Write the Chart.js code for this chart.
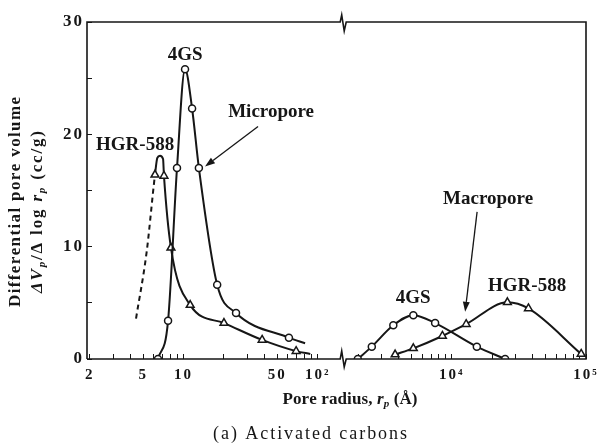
<!DOCTYPE html>
<html><head><meta charset="utf-8">
<script src="https://cdn.jsdelivr.net/npm/chart.js@4.4.1/dist/chart.umd.min.js"></script>
<style>html,body{margin:0;padding:0;background:#fff;} #wrap{width:598px;height:446px;}</style>
</head><body><div id="wrap"><canvas id="c" width="598" height="446"></canvas></div>
<script>
// ---------- data (pore radius in Å, dV/dlog r in cc/g) ----------
const X_MICRO_4GS = [6.44, 7.66, 8.93, 10.25, 11.57, 13.0, 17.8, 24.6, 61, 80.5];
const Y_MICRO_4GS = [0, 3.4, 17.0, 25.8, 22.3, 17.0, 6.6, 4.1, 1.9, 1.4];
const MARK_MICRO_4GS = [1, 1, 1, 1, 1, 1, 1, 1, 1, 0];

const X_MICRO_HGR = [4.42, 5.3, 6.12, 6.37, 6.67, 7.03, 7.14, 8.05, 11.2, 20.0, 38.5, 69, 88];
const Y_MICRO_HGR = [3.6, 9.5, 16.4, 17.9, 18.1, 17.8, 16.3, 9.9, 4.8, 3.2, 1.7, 0.7, 0.45];
const MARK_MICRO_HGR = [0, 0, 1, 0, 0, 0, 1, 1, 1, 1, 1, 1, 0];

const X_MACRO_4GS = [1990, 2530, 3660, 5160, 7500, 15350, 24950];
const Y_MACRO_4GS = [0, 1.1, 3.0, 3.9, 3.2, 1.1, 0];

const X_MACRO_HGR = [3775, 5160, 8500, 12780, 25940, 37220, 92050];
const Y_MACRO_HGR = [0.4, 0.95, 2.05, 3.1, 5.05, 4.5, 0.45];

const X_LABEL_VALUES = [2, 5, 10, 50, 100, 10000, 100000];
const X_TICK_LABELS = ['2', '5', '10', '50', '10²', '10⁴', '10⁵'];
const X_MINOR_TICKS = [3, 4, 6, 7, 8, 9, 20, 30, 40, 60, 70, 80, 90,
  2000, 3000, 4000, 5000, 6000, 7000, 8000, 9000,
  20000, 30000, 40000, 50000, 60000, 70000, 80000, 90000];
const Y_TICKS = [0, 5, 10, 15, 20, 25, 30];
const Y_TICK_LABELS = ['0', '', '10', '', '20', '', '30'];

// ---------- broken log axis (one decade cut out between ~150 Å and ~1500 Å) ----------
const GAP_DECADES = 1, SPLIT_R = 500, BREAK_U = 2.19;
const X_MIN = 1.905, X_MAX = 100000;
function toU(r) { const l = Math.log10(r); return r >= SPLIT_R ? l - GAP_DECADES : l; }

class BrokenLogScale extends Chart.LinearScale {
  parse(raw, index) {
    const v = super.parse(raw, index);
    if (v === null || v === undefined || !isFinite(v) || v <= 0) return null;
    return toU(v);
  }
}
BrokenLogScale.id = 'brokenLog';
BrokenLogScale.defaults = {};
Chart.register(BrokenLogScale);

const X_TICKS = X_LABEL_VALUES.concat(X_MINOR_TICKS).sort((a, b) => a - b);
function xLabel(v) { const i = X_LABEL_VALUES.indexOf(v); return i >= 0 ? X_TICK_LABELS[i] : ''; }

function pts(xs, ys) { return xs.map((x, i) => ({ x: x, y: ys[i] })); }

const INK = '#161616';
const SERIF = "'Liberation Serif', 'DejaVu Serif', serif";

function ds(label, xs, ys, marks, style, extra) {
  return Object.assign({
    label: label,
    data: pts(xs, ys),
    borderColor: INK,
    borderWidth: 2,
    backgroundColor: '#fff',
    pointBackgroundColor: '#fff',
    pointBorderColor: INK,
    pointBorderWidth: 1.5,
    pointStyle: style,
    pointRadius: marks ? (c => marks[c.dataIndex] ? (style === 'triangle' ? 4.5 : 3.5) : 0)
                       : (style === 'triangle' ? 4.5 : 3.5),
    cubicInterpolationMode: 'monotone',
    fill: false
  }, extra || {});
}

// ---------- decorations ----------
const ANNOTATIONS = [
  { text: '4GS', x: 10.26, y: 27.05 },
  { text: 'HGR-588', x: 4.35, y: 19.0 },
  { text: 'Micropore', x: 44.9, y: 21.96 },
  { text: 'Macropore', x: 18620, y: 14.2 },
  { text: '4GS', x: 5140, y: 5.45 },
  { text: 'HGR-588', x: 36390, y: 6.5 }
];
const ARROWS = [
  { from: [35.9, 20.7], to: [14.45, 17.14] },
  { from: [15420, 13.1], to: [12560, 4.2] }
];

function drawRich(ctx, runs, cx, cy, opts) {
  const chars = []; let total = 0;
  for (const r of runs) {
    ctx.font = r.font;
    for (const ch of r.t) { const w = ctx.measureText(ch).width; chars.push({ ch, font: r.font, dy: r.dy || 0, w }); total += w; }
  }
  const sp = opts.width ? (opts.width - total) / (chars.length - 1) : (opts.spacing || 0);
  const full = total + sp * (chars.length - 1);
  ctx.save();
  ctx.translate(cx, cy);
  if (opts.rotate) ctx.rotate(opts.rotate);
  ctx.textBaseline = 'middle'; ctx.textAlign = 'left'; ctx.fillStyle = INK;
  let x = -full / 2;
  for (const c of chars) { ctx.font = c.font; ctx.fillText(c.ch, x, c.dy); x += c.w + sp; }
  ctx.restore();
}

const decor = {
  id: 'decor',
  beforeDraw(chart) { try { chart.ctx.letterSpacing = '2px'; } catch (e) {} },
  beforeDatasetsDraw(chart) { try { chart.ctx.letterSpacing = '0px'; } catch (e) {} },
  afterDraw(chart) {
    const ctx = chart.ctx, xs = chart.scales.x, ys = chart.scales.y;
    try { ctx.letterSpacing = '0px'; } catch (e) {}
    const { left, right, top, bottom } = chart.chartArea;
    const bx = xs.getPixelForValue(BREAK_U);
    ctx.save();
    ctx.strokeStyle = INK; ctx.lineWidth = 1.6; ctx.lineJoin = 'miter';
    ctx.beginPath();
    ctx.moveTo(left, bottom); ctx.lineTo(left, top);
    ctx.lineTo(bx - 3, top); ctx.lineTo(bx - 1.5, top - 7); ctx.lineTo(bx + 1, top + 9); ctx.lineTo(bx + 3, top);
    ctx.lineTo(right, top); ctx.lineTo(right, bottom);
    ctx.lineTo(bx + 3, bottom); ctx.lineTo(bx + 1, bottom + 8); ctx.lineTo(bx - 1.5, bottom - 8); ctx.lineTo(bx - 3, bottom);
    ctx.lineTo(left, bottom);
    ctx.stroke();

    // arrows
    ctx.fillStyle = INK; ctx.lineWidth = 1.3;
    for (const a of ARROWS) {
      const x1 = xs.getPixelForValue(xs.parse(a.from[0])), y1 = ys.getPixelForValue(a.from[1]);
      const x2 = xs.getPixelForValue(xs.parse(a.to[0])), y2 = ys.getPixelForValue(a.to[1]);
      const ang = Math.atan2(y2 - y1, x2 - x1), L = 10, W = 3.5;
      const bxp = x2 - L * Math.cos(ang), byp = y2 - L * Math.sin(ang);
      ctx.beginPath(); ctx.moveTo(x1, y1); ctx.lineTo(bxp, byp); ctx.stroke();
      ctx.beginPath(); ctx.moveTo(x2, y2);
      ctx.lineTo(bxp + W * Math.sin(ang), byp - W * Math.cos(ang));
      ctx.lineTo(bxp - W * Math.sin(ang), byp + W * Math.cos(ang));
      ctx.closePath(); ctx.fill();
    }
    // annotation labels
    ctx.font = 'bold 19px ' + SERIF; ctx.textAlign = 'center'; ctx.textBaseline = 'middle';
    for (const a of ANNOTATIONS) {
      ctx.fillText(a.text, xs.getPixelForValue(xs.parse(a.x)), ys.getPixelForValue(a.y));
    }
    ctx.restore();

    const B = 'bold 17px ' + SERIF, BI = 'italic bold 17px ' + SERIF, SUB = 'italic bold 11px ' + SERIF;
    // x title
    drawRich(ctx, [{ t: 'Pore radius, ', font: B }, { t: 'r', font: BI }, { t: 'p', font: SUB, dy: 4 }, { t: ' (Å)', font: B }],
      350, 400, { width: 135 });
    // y title (two lines)
    drawRich(ctx, [{ t: 'Differential pore volume', font: B }], 16, 202, { width: 210, rotate: -Math.PI / 2 });
    drawRich(ctx, [{ t: 'ΔV', font: BI }, { t: 'p', font: SUB, dy: 4 }, { t: '/Δ log ', font: B }, { t: 'r', font: BI },
      { t: 'p', font: SUB, dy: 4 }, { t: ' (cc/g)', font: B }], 38, 212, { width: 162, rotate: -Math.PI / 2 });
    // caption
    drawRich(ctx, [{ t: '(a) Activated carbons', font: '18px ' + SERIF }], 310, 434, { width: 194 });
  }
};

new Chart(document.getElementById('c'), {
  type: 'line',
  data: {
    datasets: [
      ds('4GS micropore', X_MICRO_4GS, Y_MICRO_4GS, MARK_MICRO_4GS, 'circle'),
      ds('HGR-588 micropore', X_MICRO_HGR, Y_MICRO_HGR, MARK_MICRO_HGR, 'triangle', {
        segment: { borderDash: c => c.p0DataIndex < 2 ? [5, 4] : undefined }
      }),
      ds('4GS macropore', X_MACRO_4GS, Y_MACRO_4GS, null, 'circle'),
      ds('HGR-588 macropore', X_MACRO_HGR, Y_MACRO_HGR, null, 'triangle')
    ]
  },
  options: {
    responsive: false,
    animation: false,
    devicePixelRatio: 1,
    layout: { padding: { top: 22, right: 12, left: 0, bottom: 0 } },
    plugins: { legend: { display: false }, tooltip: { enabled: false } },
    scales: {
      x: {
        type: 'brokenLog',
        bounds: 'data',
        min: X_MIN, max: X_MAX,
        afterBuildTicks: s => { s.ticks = X_TICKS.map(v => ({ value: toU(v) })); },
        afterFit: s => { s.height = 87; s.paddingLeft = 0; s.paddingRight = 0; },
        ticks: {
          autoSkip: false, maxRotation: 0, minRotation: 0, padding: 12, color: INK,
          font: { family: SERIF, size: 15, weight: 'bold' },
          callback: (v, i) => xLabel(X_TICKS[i])
        },
        grid: { drawOnChartArea: false, drawTicks: true, tickLength: -5, color: INK, lineWidth: 1 },
        border: { display: false }
      },
      y: {
        type: 'linear',
        min: 0, max: 30,
        afterBuildTicks: s => { s.ticks = Y_TICKS.map(v => ({ value: v })); },
        afterFit: s => { s.width = 87; s.paddingTop = 0; s.paddingBottom = 0; },
        ticks: {
          padding: 8, color: INK,
          font: { family: SERIF, size: 17, weight: 'bold' },
          callback: (v, i) => Y_TICK_LABELS[i]
        },
        grid: { drawOnChartArea: false, drawTicks: true, tickLength: -5, color: INK, lineWidth: 1 },
        border: { display: false }
      }
    }
  },
  plugins: [decor]
});
</script>
</body></html>
